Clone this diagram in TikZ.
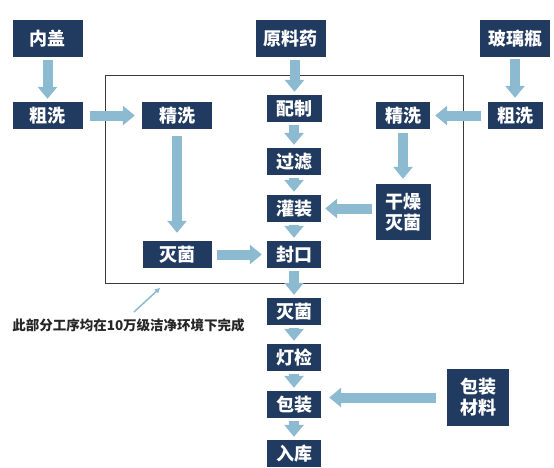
\documentclass[tikz,border=0pt]{standalone}
\usepackage{fontspec}
\usepackage{tikz}
\usetikzlibrary{arrows.meta}
\newfontfamily\cjk{Noto Sans CJK SC}
\definecolor{navy}{HTML}{203A60}
\definecolor{flow}{HTML}{8CBAD0}
\definecolor{frame}{HTML}{3A3A3A}

\begin{document}
\begin{tikzpicture}[x=1pt,y=-1pt,
  proc/.style={fill=navy,text=white,inner sep=0pt,align=center,
    minimum width=54pt,minimum height=27pt,
    font=\cjk\bfseries\fontsize{18}{21}\selectfont},
  feed/.style={draw=flow,line width=10pt,-{Triangle[length=12pt,width=19pt]},
    shorten <=3pt,shorten >=3pt}]
  \useasboundingbox (0,0) rectangle (554,467);

  % clean room
  \draw[frame,line width=0.8pt] (105,75) rectangle (463,283);

  % inputs
  \node[proc,minimum width=70pt,minimum height=37pt] (neigai) at (47.5,38.5) {内盖};
  \node[proc,minimum width=70pt,minimum height=37pt] (yuanliao) at (290.5,38.5) {原料药};
  \node[proc,minimum width=70pt,minimum height=37pt] (boli) at (515,38.5) {玻璃瓶};
  \node[proc,minimum width=62pt,minimum height=57pt] (cailiao) at (478,397.5) {包装\\材料};

  % washing line
  \node[proc,minimum width=70pt] (cuxiL) at (47.5,115.5) {粗洗};
  \node[proc,minimum width=70pt] (jingxiL) at (177,115.5) {精洗};
  \node[proc,minimum width=69pt] (miejunL) at (177,254.5) {灭菌};
  \node[proc,minimum width=55pt] (cuxiR) at (515,115.5) {粗洗};
  \node[proc] (jingxiR) at (403,115.5) {精洗};
  \node[proc,minimum width=55pt,minimum height=56pt] (ganzao) at (403,212) {干燥\\灭菌};

  % main line
  \node[proc,minimum width=55pt] (peizhi) at (294.5,108.5) {配制};
  \node[proc] (guolv) at (294,161.5) {过滤};
  \node[proc] (guanzhuang) at (294,208.5) {灌装};
  \node[proc] (fengkou) at (294,254.5) {封口};
  \node[proc] (miejun) at (294,311.5) {灭菌};
  \node[proc] (dengjian) at (294,357.5) {灯检};
  \node[proc] (baozhuang) at (294,404.5) {包装};
  \node[proc] (ruku) at (294,453.5) {入库};

  \draw[feed] (neigai) -- (cuxiL);
  \draw[feed,shorten <=7pt,shorten >=7pt] (cuxiL) -- (jingxiL);
  \draw[feed] (peizhi.north |- yuanliao.south) -- (peizhi.north);
  \draw[feed,shorten <=2pt,shorten >=4pt] (boli) -- (cuxiR);
  \draw[feed,shorten <=6pt,shorten >=5pt] (cuxiR) -- (jingxiR);
  \draw[feed,shorten <=7pt,shorten >=8pt] (jingxiL) -- (miejunL);
  \draw[feed,shorten <=4pt,shorten >=5pt] (jingxiR) -- (ganzao);
  \draw[feed] (peizhi.south -| guolv) -- (guolv);
  \draw[feed] (guolv) -- (guanzhuang);
  \draw[feed,shorten >=4pt] (ganzao.west |- guanzhuang.east) -- (guanzhuang.east);
  \draw[feed] (guanzhuang) -- (fengkou);
  \draw[feed,shorten <=5pt,shorten >=5pt] (miejunL) -- (fengkou);
  \draw[feed] (fengkou) -- (miejun);
  \draw[feed] (miejun) -- (dengjian);
  \draw[feed] (dengjian) -- (baozhuang);
  \draw[feed] (baozhuang) -- (ruku);
  \draw[feed,shorten <=11pt,shorten >=8pt] (cailiao.west) -- (cailiao.west -| baozhuang.east);

  % note
  \node[font=\cjk\bfseries\fontsize{13.5}{15}\selectfont,text=black!85] (note) at (128.5,325)
    {此部分工序均在10万级洁净环境下完成};
  \coordinate (notefoot) at (134,312);
  \coordinate (notetip) at (160,288);
  \draw[flow,line width=1.5pt,-{Triangle[length=5pt,width=5pt]}] (notefoot) -- (notetip);
\end{tikzpicture}
\end{document}
